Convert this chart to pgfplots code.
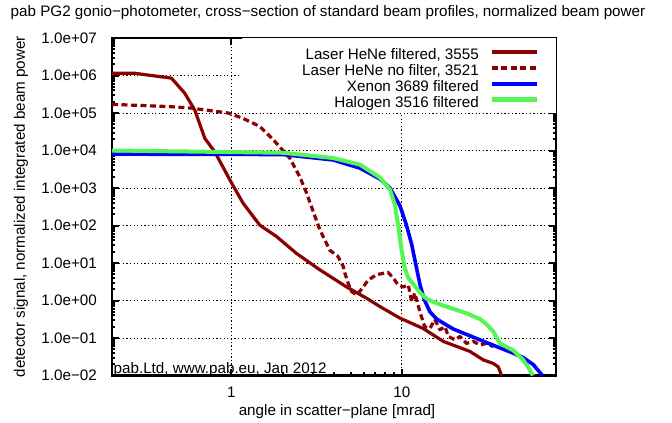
\documentclass[border=0pt]{standalone}
\usepackage{fontspec}
\setmainfont{Liberation Sans}
\usepackage{pgfplots}
\pgfplotsset{compat=1.18}
\definecolor{dred}{RGB}{139,0,0}
\definecolor{lgreen}{RGB}{85,245,85}
\definecolor{xblue}{RGB}{0,0,255}
\tikzset{gridst/.style={black, line width=0.9bp, dash pattern=on 1.3bp off 2.3bp}}
\begin{document}
\begin{tikzpicture}
\begin{axis}[
  name=ax,
  scale only axis, width=444bp, height=337.5bp,
  xmode=log, ymode=log,
  xmin=0.2, xmax=80, ymin=1e-2, ymax=1e7,
  font=\fontsize{15.2bp}{18bp}\selectfont,
  xtick={1,10}, xticklabels={1,10},
  ytick={1e-2,1e-1,1,10,100,1e3,1e4,1e5,1e6,1e7},
  yticklabels={1.0e−02,1.0e−01,1.0e+00,1.0e+01,1.0e+02,1.0e+03,1.0e+04,1.0e+05,1.0e+06,1.0e+07},
  axis line style={line width=2.5bp},
  major tick style={black, line width=2bp},
  minor tick style={black, line width=2bp},
  major tick length=7bp, minor tick length=3.5bp,
  tick align=inside,
  xticklabel style={anchor=base, yshift=-21.5bp, inner sep=0pt},
  yticklabel style={anchor=east, xshift=-15bp, inner sep=0pt},
  no markers,
  legend cell align=right,
  legend plot pos=right,
  legend image code/.code={\draw[#1] (0bp,0bp) -- (45bp,0bp);},
  legend style={at={(1,1)}, anchor=north east, fill=white, draw=none,
    inner xsep=17bp, inner ysep=6bp, row sep=0pt, column sep=11bp,
    nodes={inner sep=0pt, text height=15.5bp, text depth=0.3bp},
    font=\fontsize{15.2bp}{18bp}\selectfont},
]
\draw[gridst] (axis cs:1,0.01) -- (axis cs:1,1e7);
\draw[gridst] (axis cs:10,0.01) -- (axis cs:10,1e7);
\draw[gridst] (axis cs:0.2,0.1) -- (axis cs:80,0.1);
\draw[gridst] (axis cs:0.2,1) -- (axis cs:80,1);
\draw[gridst] (axis cs:0.2,10) -- (axis cs:80,10);
\draw[gridst] (axis cs:0.2,100) -- (axis cs:80,100);
\draw[gridst] (axis cs:0.2,1000) -- (axis cs:80,1000);
\draw[gridst] (axis cs:0.2,1e4) -- (axis cs:80,1e4);
\draw[gridst] (axis cs:0.2,1e5) -- (axis cs:80,1e5);
\draw[gridst] (axis cs:0.2,1e6) -- (axis cs:80,1e6);
\addplot[dred, line width=3.2bp, line join=round] coordinates {
(0.2,1.15e6) (0.27,1.15e6) (0.446,8.5e5) (0.533,3.4e5) (0.611,1.2e5)
(0.70,2.1e4) (0.80,9.3e3) (0.98,1.66e3) (1.17,400) (1.47,102)
(1.84,51) (2.41,18) (3.30,6.6) (4.74,2.3) (6.21,1.15) (7.43,0.69)
(9.73,0.34) (13.3,0.18) (17.5,0.081) (25.0,0.044) (30.0,0.026)
(34.3,0.021) (36.7,0.017) (38.4,0.010)
};
\addlegendentry{\makebox[220bp][r]{Laser HeNe filtered, 3555}}
\addplot[dred, line width=3.2bp, dash pattern=on 6bp off 3.5bp, line join=round] coordinates {
(0.2,1.70e5) (0.436,1.48e5) (0.584,1.35e5) (0.958,1.0e5) (1.17,7.2e4)
(1.47,4.4e4) (1.76,1.95e4) (2.20,6.3e3) (2.52,2.0e3) (2.76,740)
(3.30,78) (3.78,22) (4.22,15) (4.53,8.1) (4.63,5.4) (4.84,2.9)
(5.07,1.74) (5.45,1.4) (5.93,2.3) (6.34,3.5) (7.11,4.9) (8.31,5.6)
(8.89,4.0) (9.51,2.6) (10.2,2.3) (10.9,2.6) (11.4,0.93) (11.9,1.58)
(12.8,0.47) (13.6,0.20) (14.6,0.18) (15.6,0.31) (16.7,0.166) (17.9,0.20)
(18.7,0.11) (20.5,0.089) (21.9,0.11) (23.9,0.072) (26.2,0.081)
(28.7,0.065) (31.4,0.072) (34.3,0.059)
};
\addlegendentry{Laser HeNe no filter, 3521}
\addplot[xblue, line width=3.6bp, line join=round] coordinates {
(0.2,8.0e3) (1.0,7.9e3) (2.01,7.8e3) (3.95,5.6e3) (5.67,3.4e3)
(7.43,1.74e3) (8.51,1.0e3) (9.73,340) (10.6,107) (11.4,32) (12.2,7.1)
(12.8,2.5) (13.6,1.0) (14.6,0.5) (16.0,0.32) (18.3,0.22) (20.0,0.174)
(22.9,0.135) (28.7,0.089) (35.9,0.059) (44.0,0.041) (51.4,0.030)
(58.9,0.0195) (64.4,0.012) (66.5,0.010)
};
\addlegendentry{Xenon 3689 filtered}
\addplot[lgreen, line width=4bp, line join=round] coordinates {
(0.2,1.0e4) (2.01,8.7e3) (3.95,6.3e3) (5.67,4.2e3) (7.43,1.9e3)
(8.51,900) (9.10,355) (9.51,100) (9.96,22) (10.4,7.2) (10.9,4.0)
(11.4,3.1) (12.8,1.6) (14.0,1.1) (15.9,0.85) (20.9,0.56) (23.9,0.46)
(26.2,0.38) (28.7,0.32) (31.4,0.23) (34.3,0.15) (37.6,0.071)
(44.9,0.047) (51.4,0.026) (55.0,0.0166) (57.6,0.0115) (58.6,0.010)
};
\addlegendentry{Halogen 3516 filtered}
\end{axis}
\node[anchor=base west, inner sep=0pt, font=\fontsize{15.2bp}{18bp}\selectfont] at ([xshift=1.5bp, yshift=2.5bp]ax.south west) {pab.Ltd, www.pab.eu, Jan 2012};
\node[anchor=base, inner sep=0pt, font=\fontsize{15.2bp}{18bp}\selectfont] at ([xshift=-6bp, yshift=21bp]ax.north) {pab PG2 gonio−photometer, cross−section of standard beam profiles, normalized beam power};
\node[anchor=base, inner sep=0pt, rotate=90, font=\fontsize{15.2bp}{18bp}\selectfont] at ([xshift=-87bp]ax.west) {detector signal, normalized integrated beam power};
\node[anchor=base, inner sep=0pt, font=\fontsize{15.2bp}{18bp}\selectfont] at ([xshift=3bp, yshift=-40bp]ax.south) {angle in scatter−plane [mrad]};
\path ([xshift=-112bp,yshift=-47.5bp]ax.south west) rectangle ([xshift=116bp,yshift=38bp]ax.north east);
\end{tikzpicture}
\end{document}
